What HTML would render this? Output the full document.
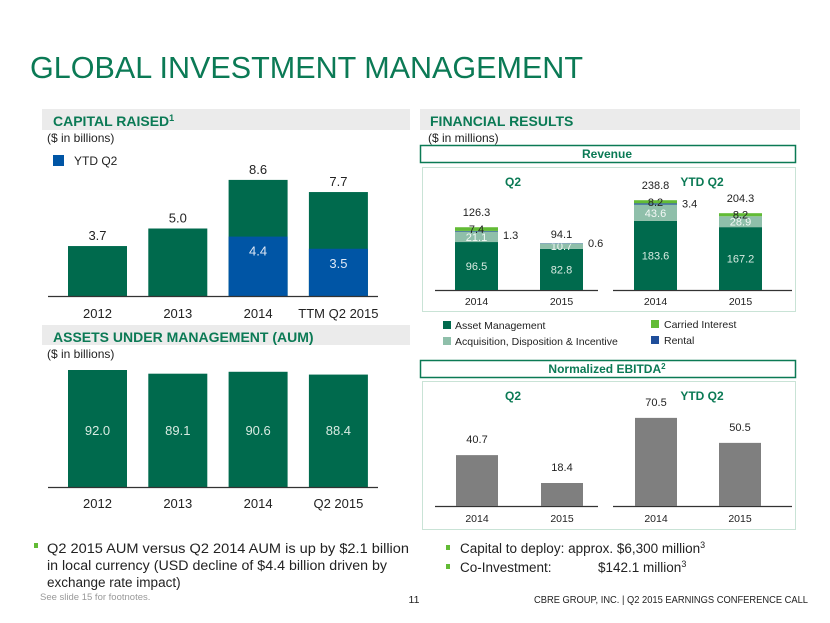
<!DOCTYPE html>
<html><head><meta charset="utf-8"><style>
html,body{margin:0;padding:0;background:#fff;}
svg{display:block;font-family:"Liberation Sans",Arial,sans-serif;}
</style></head><body>
<svg id="s" width="830" height="623" viewBox="0 0 830 623" xmlns="http://www.w3.org/2000/svg">
<text x="30" y="78" font-size="31" fill="#0b7a55" textLength="553" lengthAdjust="spacingAndGlyphs">GLOBAL INVESTMENT MANAGEMENT</text>

<rect x="42" y="109" width="368" height="21" fill="#ebebeb"/>
<text x="53" y="126" font-size="14" font-weight="bold" fill="#0b7a55">CAPITAL RAISED<tspan font-size="9" dy="-5">1</tspan></text>
<text x="47" y="142" font-size="12" fill="#222">($ in billions)</text>
<rect x="53" y="155" width="11" height="11" fill="#0055a5"/>
<text x="74" y="165" font-size="12" fill="#222">YTD Q2</text>
<g id="cap"></g>

<rect x="42" y="325" width="368" height="20" fill="#ebebeb"/>
<text x="53" y="342" font-size="14" font-weight="bold" fill="#0b7a55">ASSETS UNDER MANAGEMENT (AUM)</text>
<text x="47" y="358" font-size="12" fill="#222">($ in billions)</text>
<g id="aum"></g>

<rect x="420" y="109" width="380" height="21" fill="#ebebeb"/>
<text x="430" y="126" font-size="14" font-weight="bold" fill="#0b7a55">FINANCIAL RESULTS</text>
<text x="428" y="142" font-size="12" fill="#222">($ in millions)</text>
<rect x="420.5" y="145.5" width="375" height="17" fill="#fff" stroke="#0b7a55" stroke-width="1.5"/>
<text x="607" y="158" font-size="12" font-weight="bold" fill="#0b7a55" text-anchor="middle">Revenue</text>
<rect x="422.5" y="167.5" width="373" height="144" fill="#fff" stroke="#c9e3d6"/>
<text x="513" y="186" font-size="12" font-weight="bold" fill="#0b7a55" text-anchor="middle">Q2</text>
<text x="702" y="186" font-size="12" font-weight="bold" fill="#0b7a55" text-anchor="middle">YTD Q2</text>
<g id="rev"></g>

<rect x="443" y="321" width="8" height="8" fill="#006a4d"/>
<text x="455" y="329" font-size="10.5" fill="#222">Asset Management</text>
<rect x="443" y="337" width="8" height="8" fill="#8fbfaa"/>
<text x="455" y="345" font-size="10.5" fill="#222">Acquisition, Disposition &amp; Incentive</text>
<rect x="651" y="320" width="8" height="8" fill="#62bb35"/>
<text x="664" y="328" font-size="10.5" fill="#222">Carried Interest</text>
<rect x="651" y="336" width="8" height="8" fill="#1f4e9a"/>
<text x="664" y="344" font-size="10.5" fill="#222">Rental</text>

<rect x="420.5" y="360.5" width="375" height="17" fill="#fff" stroke="#0b7a55" stroke-width="1.5"/>
<text x="607" y="373" font-size="12" font-weight="bold" fill="#0b7a55" text-anchor="middle">Normalized EBITDA<tspan font-size="8" dy="-4">2</tspan></text>
<rect x="422.5" y="381.5" width="373" height="148" fill="#fff" stroke="#c9e3d6"/>
<text x="513" y="400" font-size="12" font-weight="bold" fill="#0b7a55" text-anchor="middle">Q2</text>
<text x="702" y="400" font-size="12" font-weight="bold" fill="#0b7a55" text-anchor="middle">YTD Q2</text>
<g id="ebit"></g>

<g font-size="13.5" fill="#222">
<rect x="34" y="543" width="4" height="5" fill="#62bb35"/>
<text x="47" y="553" textLength="362" lengthAdjust="spacingAndGlyphs">Q2 2015 AUM versus Q2 2014 AUM is up by $2.1 billion</text>
<text x="47" y="570" textLength="340" lengthAdjust="spacingAndGlyphs">in local currency (USD decline of $4.4 billion driven by</text>
<text x="47" y="587">exchange rate impact)</text>
<rect x="446" y="545" width="4" height="5" fill="#62bb35"/>
<text x="460" y="553">Capital to deploy:  approx. $6,300 million<tspan font-size="9" dy="-5">3</tspan></text>
<rect x="446" y="564" width="4" height="5" fill="#62bb35"/>
<text x="460" y="572">Co-Investment:</text>
<text x="598" y="572">$142.1 million<tspan font-size="9" dy="-5">3</tspan></text>
</g>
<text x="40" y="600" font-size="9.5" fill="#999">See slide 15 for footnotes.</text>
<text x="414" y="603" font-size="10.5" fill="#222" text-anchor="middle">11</text>
<text x="808" y="603" font-size="10.5" fill="#222" text-anchor="end" textLength="274" lengthAdjust="spacingAndGlyphs">CBRE GROUP, INC. | Q2 2015 EARNINGS CONFERENCE CALL</text>
</svg>
<script>
const capCats=["2012","2013","2014","TTM Q2 2015"];
const capTotal=[3.7,5.0,8.6,7.7];
const capYtd=[null,null,4.4,3.5];
const aumCats=["2012","2013","2014","Q2 2015"];
const aumVals=[92.0,89.1,90.6,88.4];
const revCats=["2014","2015","2014","2015"];
const revAsset=[96.5,82.8,183.6,167.2];
const revAcq=[21.1,10.7,43.6,28.9];
const revRental=[1.3,0.6,3.4,0];
const revCarried=[7.4,0,8.2,8.2];
const revTotal=[126.3,94.1,238.8,204.3];
const ebCats=["2014","2015","2014","2015"];
const ebVals=[40.7,18.4,70.5,50.5];

const NS="http://www.w3.org/2000/svg";
function mk(p,tag,at,txt){const e=document.createElementNS(NS,tag);for(const k in at)e.setAttribute(k,at[k]);if(txt!=null)e.textContent=txt;p.appendChild(e);return e;}
const G="#006a4d";

(function(){
 const g=document.getElementById('cap');const base=296,sc=13.5;
 const y=v=>base-v*sc;const xs=i=>68+i*80.3;
 capCats.forEach((c,i)=>{
  let r=mk(g,'rect',{x:xs(i),y:y(capTotal[i]),width:59,height:capTotal[i]*sc,fill:G});
  
  
  let t=mk(g,'text',{x:xs(i)+29.5,y:y(capTotal[i])-6,'font-size':13,'text-anchor':'middle',fill:'#222'},capTotal[i].toFixed(1));
  
  
  if(capYtd[i]!=null){
   let b=mk(g,'rect',{x:xs(i),y:y(capYtd[i]),width:59,height:capYtd[i]*sc,fill:'#0055a5'});
   
   
   let tt=mk(g,'text',{x:xs(i)+29.5,y:y(capYtd[i])+19,'font-size':13,'text-anchor':'middle',fill:'#dfe8f5'},capYtd[i].toFixed(1));
   
   
  }
  let l=mk(g,'text',{x:xs(i)+29.5,y:318,'font-size':13,'text-anchor':'middle',fill:'#222'},c);
  
  
 });
 let a=mk(g,'line',{x1:48,x2:378,y1:base+0.5,y2:base+0.5,stroke:'#333','stroke-width':1.2});
 
 
})();

(function(){
 const g=document.getElementById('aum');const base=487,sc=117/92;
 const y=v=>base-v*sc;const xs=i=>68+i*80.3;
 aumCats.forEach((c,i)=>{
  let r=mk(g,'rect',{x:xs(i),y:y(aumVals[i]),width:59,height:aumVals[i]*sc,fill:G});
  
  
  let t=mk(g,'text',{x:xs(i)+29.5,y:435,'font-size':13,'text-anchor':'middle',fill:'#d8ebe2'},aumVals[i].toFixed(1));
  
  
  let l=mk(g,'text',{x:xs(i)+29.5,y:508,'font-size':13,'text-anchor':'middle',fill:'#222'},c);
  
  
 });
 let a=mk(g,'line',{x1:48,x2:378,y1:base+0.5,y2:base+0.5,stroke:'#333','stroke-width':1.2});
 
 
})();

(function(){
 const g=document.getElementById('rev');const base=290;
 const xsArr=[455,540,634,719];const scs=[0.497,0.497,0.376,0.376];
 [[435,598],[613,792]].forEach(p=>{let a=mk(g,'line',{x1:p[0],x2:p[1],y1:base+0.5,y2:base+0.5,stroke:'#333','stroke-width':1.2});
  
  });
 revCats.forEach((c,i)=>{
  const sc=scs[i],x=xsArr[i];let cur=base;
  const segs=[[revAsset[i],G,'#d8ebe2','asset-management'],[revAcq[i],'#8fbfaa','#f4f8f6','acquisition'],[revRental[i],'#1f4e9a',null,'rental'],[revCarried[i],'#62bb35','#222','carried-interest']];
  segs.forEach(s=>{
   if(!s[0])return;const h=s[0]*sc;cur-=h;
   let r=mk(g,'rect',{x:x,y:cur,width:43,height:h,fill:s[1]});
   
   
   if(s[2]){
    let t=mk(g,'text',{x:x+21.5,y:cur+h/2+4,'font-size':11,'text-anchor':'middle',fill:s[2]},s[0].toFixed(1));
    
    
   }
  });
  const top=base-revTotal[i]*sc;
  let tot=mk(g,'text',{x:x+21.5,y:top-(revCarried[i]?11:5),'font-size':11,'text-anchor':'middle',fill:'#222'},revTotal[i].toFixed(1));
  
  
  if(revRental[i]){
   let rl=mk(g,'text',{x:x+48,y:top+(revCarried[i]?revCarried[i]*sc:0)+4+(i===0?4:0),'font-size':11,fill:'#222'},revRental[i].toFixed(1));
   
   
  }
  let l=mk(g,'text',{x:x+21.5,y:305,'font-size':10.5,'text-anchor':'middle',fill:'#222'},c);
  
  
 });
})();

(function(){
 const g=document.getElementById('ebit');const base=506,sc=1.25;
 const xsArr=[456,541,635,719];
 [[435,598],[613,792]].forEach(p=>{let a=mk(g,'line',{x1:p[0],x2:p[1],y1:base+0.5,y2:base+0.5,stroke:'#333','stroke-width':1.2});
  
  });
 ebCats.forEach((c,i)=>{
  const x=xsArr[i],h=ebVals[i]*sc;
  let r=mk(g,'rect',{x:x,y:base-h,width:42,height:h,fill:'#7f7f7f'});
  
  
  let t=mk(g,'text',{x:x+21,y:base-h-12,'font-size':11,'text-anchor':'middle',fill:'#222'},ebVals[i].toFixed(1));
  
  
  let l=mk(g,'text',{x:x+21,y:522,'font-size':10.5,'text-anchor':'middle',fill:'#222'},c);
  
  
 });
})();
</script>
</body></html>
